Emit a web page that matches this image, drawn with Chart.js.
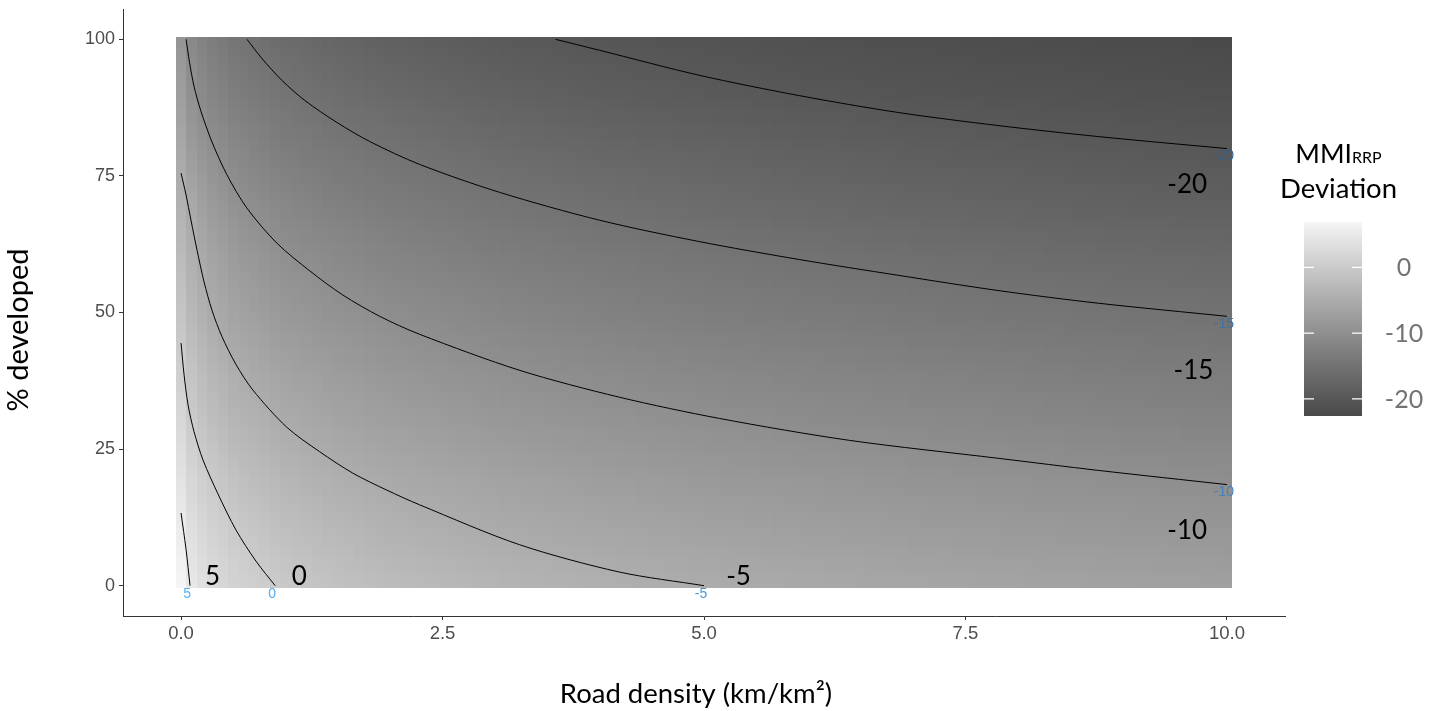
<!DOCTYPE html>
<html>
<head>
<meta charset="utf-8">
<script src="https://cdn.jsdelivr.net/npm/chart.js@4/dist/chart.umd.min.js"></script>
<style>
  html, body { margin: 0; padding: 0; background: #fff; }
  #wrap { width: 1440px; height: 711px; }
</style>
</head>
<body>
<div id="wrap"><canvas id="surface" width="1440" height="711"></canvas></div>
<script>
// grid nodes: road density (km/km2) and % developed
const roadDensity = [0, 0.1, 0.25, 0.5, 1, 1.5, 2, 3, 4, 5, 6, 7, 8, 9, 10];
const pctDeveloped = [0, 10, 20, 30, 40, 50, 60, 70, 80, 90, 100];

// MMI_RRP deviation at each road density node, one array per % developed row
const dev0   = [6.9, 4.8, 3.1, 1.5, -0.3, -1.4, -2.3, -3.5, -4.3, -5.0, -5.5, -6.0, -6.4, -6.7, -7.0];
const dev10  = [5.5, 3.4, 1.7, 0.1, -1.8, -3.0, -3.9, -5.1, -5.9, -6.6, -7.1, -7.6, -8.0, -8.3, -8.6];
const dev20  = [3.9, 1.9, 0.2, -1.5, -3.4, -4.6, -5.5, -6.6, -7.5, -8.2, -8.7, -9.2, -9.6, -9.9, -10.2];
const dev30  = [2.3, 0.1, -1.6, -3.3, -5.1, -6.3, -7.1, -8.3, -9.1, -9.8, -10.4, -10.8, -11.2, -11.6, -11.9];
const dev40  = [0.7, -1.2, -3.1, -4.8, -6.7, -7.8, -8.7, -9.9, -10.7, -11.4, -11.9, -12.4, -12.8, -13.2, -13.5];
const dev50  = [-0.9, -3.0, -4.8, -6.4, -8.3, -9.4, -10.2, -11.4, -12.3, -13.0, -13.5, -14.0, -14.4, -14.8, -15.1];
const dev60  = [-2.5, -4.3, -5.9, -7.7, -9.8, -10.9, -11.8, -13.0, -13.8, -14.5, -15.1, -15.6, -16.0, -16.4, -16.7];
const dev70  = [-4.1, -5.6, -7.6, -9.5, -11.4, -12.6, -13.4, -14.6, -15.5, -16.2, -16.8, -17.3, -17.7, -18.1, -18.4];
const dev80  = [-5.7, -7.8, -9.5, -11.2, -13.1, -14.2, -15.0, -16.3, -17.2, -17.8, -18.4, -18.9, -19.3, -19.7, -20.0];
const dev90  = [-7.3, -9.6, -11.3, -12.9, -14.7, -15.9, -16.7, -18.0, -18.8, -19.5, -20.1, -20.5, -20.8, -21.1, -21.4];
const dev100 = [-8.9, -11.0, -12.7, -14.4, -16.3, -17.4, -18.3, -19.5, -20.3, -20.8, -21.3, -21.7, -22.0, -22.3, -22.6];

// contour lines (road density, % developed)
const lvl5X   = [0.0, 0.048, 0.086];
const lvl5Y   = [13.3, 6.6, 0];
const lvl0X   = [0.0, 0.029, 0.067, 0.124, 0.21, 0.353, 0.525, 0.716, 0.90];
const lvl0Y   = [44.4, 38.6, 33.1, 28.2, 23.0, 16.8, 10.2, 4.5, 0];
const lvlM5X  = [0.0, 0.048, 0.095, 0.153, 0.22, 0.296, 0.391, 0.525, 0.687, 1.011, 1.327, 1.642, 1.966, 2.281, 3.236, 4.19, 5.0];
const lvlM5Y  = [75.5, 71.5, 66.9, 61.4, 55.6, 50.4, 45.6, 40.5, 35.8, 29.0, 24.5, 20.6, 17.5, 14.8, 7.5, 2.5, 0];
const lvlM10X = [0.048, 0.081, 0.124, 0.191, 0.296, 0.439, 0.63, 0.916, 1.232, 1.547, 1.90, 2.282, 3.24, 4.19, 5.15, 6.39, 7.82, 8.77, 10.0];
const lvlM10Y = [100, 95.8, 91.4, 86.8, 81.2, 75.2, 69.1, 62.7, 57.6, 53.2, 49.3, 46.0, 39.4, 34.5, 30.6, 26.6, 23.3, 21.1, 18.5];
const lvlM15X = [0.63, 0.773, 0.964, 1.184, 1.489, 1.804, 2.282, 3.045, 4.0, 4.95, 5.91, 6.86, 7.82, 8.77, 10.0];
const lvlM15Y = [100, 96.5, 92.5, 88.8, 84.8, 81.3, 77.1, 72.0, 66.9, 63.0, 59.7, 56.8, 54.0, 51.7, 49.3];
const lvlM20X = [3.58, 4.0, 4.96, 5.91, 6.86, 7.82, 8.77, 10.0];
const lvlM20Y = [100, 98.0, 93.4, 89.7, 86.6, 84.2, 82.2, 80.0];

const levelNames = ['5', '0', '-5', '-10', '-15', '-20'];
// big level labels placed in data space
const bigLabelX = [0.30, 1.13, 5.33, 9.62, 9.68, 9.62];
const bigLabelY = [1.9, 1.9, 1.9, 10.2, 39.5, 73.7];

const xTicks = [0, 2.5, 5, 7.5, 10];
const yTicks = [0, 25, 50, 75, 100];
const legendTicks = [0, -10, -20];

const grid = [dev0, dev10, dev20, dev30, dev40, dev50, dev60, dev70, dev80, dev90, dev100];
const contours = [
  [lvl5X, lvl5Y], [lvl0X, lvl0Y], [lvlM5X, lvlM5Y],
  [lvlM10X, lvlM10Y], [lvlM15X, lvlM15Y], [lvlM20X, lvlM20Y]
];
const smallLabelColors = ['#56B1F7', '#53AAEE', '#4B96D4', '#4582BA', '#3D70A0', '#365F89'];

const allValues = grid.flat();
const vMin = Math.min(...allValues);
const vMax = Math.max(...allValues);

// grey ramp interpolated in L*, like ggplot's gradient
function lstar(g) {
  const c = g / 255;
  const lin = c <= 0.04045 ? c / 12.92 : Math.pow((c + 0.055) / 1.055, 2.4);
  return lin > 0.008856 ? 116 * Math.cbrt(lin) - 16 : 903.3 * lin;
}
function fromLstar(L) {
  const Y = L > 8 ? Math.pow((L + 16) / 116, 3) : L / 903.3;
  const c = Y <= 0.0031308 ? 12.92 * Y : 1.055 * Math.pow(Y, 1 / 2.4) - 0.055;
  return Math.round(Math.max(0, Math.min(1, c)) * 255);
}
const lowL = lstar(0x4a), highL = lstar(0xf5);
function greyFor(v) {
  const t = (v - vMin) / (vMax - vMin);
  return fromLstar(lowL + t * (highL - lowL));
}

function lookup(nodes, v) {
  let k = 0;
  while (k < nodes.length - 2 && nodes[k + 1] < v) k++;
  return [k, (v - nodes[k]) / (nodes[k + 1] - nodes[k])];
}

const rasterPlugin = {
  id: 'raster',
  beforeDatasetsDraw(chart) {
    const xs = chart.scales.x, ys = chart.scales.y;
    const left = Math.round(xs.getPixelForValue(-0.05));
    const right = Math.round(xs.getPixelForValue(10.05));
    const top = Math.round(ys.getPixelForValue(100.5));
    const bottom = Math.round(ys.getPixelForValue(-0.5));
    const w = right - left, h = bottom - top;
    const off = document.createElement('canvas');
    off.width = w; off.height = h;
    const octx = off.getContext('2d');
    const img = octx.createImageData(w, h);
    const cols = [];
    for (let i = 0; i < w; i++) {
      let v = xs.getValueForPixel(left + i + 0.5);
      v = Math.min(10, Math.max(0, Math.round(v * 10) / 10));
      cols.push(lookup(roadDensity, v));
    }
    for (let j = 0; j < h; j++) {
      let v = ys.getValueForPixel(top + j + 0.5);
      v = Math.min(100, Math.max(0, Math.round(v)));
      const [r, tr] = lookup(pctDeveloped, v);
      const lo = grid[r], hi = grid[r + 1];
      for (let i = 0; i < w; i++) {
        const [k, tc] = cols[i];
        const a = lo[k] + (lo[k + 1] - lo[k]) * tc;
        const b = hi[k] + (hi[k + 1] - hi[k]) * tc;
        const g = greyFor(a + (b - a) * tr);
        const p = (j * w + i) * 4;
        img.data[p] = g; img.data[p + 1] = g; img.data[p + 2] = g; img.data[p + 3] = 255;
      }
    }
    octx.putImageData(img, 0, 0);
    chart.ctx.drawImage(off, left, top);
  }
};

const textPlugin = {
  id: 'texts',
  afterDatasetsDraw(chart) {
    const ctx = chart.ctx;
    const xs = chart.scales.x, ys = chart.scales.y;
    ctx.save();
    // small coloured labels at the contour ends
    ctx.font = '14px "Liberation Sans"';
    ctx.textAlign = 'center';
    ctx.textBaseline = 'middle';
    contours.forEach(([cx, cy], i) => {
      const n = cx.length - 1;
      ctx.fillStyle = smallLabelColors[i];
      ctx.fillText(levelNames[i], xs.getPixelForValue(cx[n]) - 3, ys.getPixelForValue(cy[n]) + 8);
    });
    // big black labels
    ctx.font = '26px Lato';
    ctx.fillStyle = '#000';
    ctx.textBaseline = 'alphabetic';
    levelNames.forEach((name, i) => {
      ctx.fillText(name, xs.getPixelForValue(bigLabelX[i]), ys.getPixelForValue(bigLabelY[i]) + 9.5);
    });
    // axis titles
    ctx.font = '27.5px Lato';
    ctx.fillText('Road density (km/km\u00B2)', 696, 703);
    ctx.save();
    ctx.translate(28, 330);
    ctx.rotate(-Math.PI / 2);
    ctx.font = '29px Lato';
    ctx.fillText('% developed', 0, 0);
    ctx.restore();

    // legend title
    const big = '26.5px Lato', sub = '16px Lato';
    ctx.font = big;
    const wM = ctx.measureText('MMI').width;
    ctx.font = sub;
    const wR = ctx.measureText('RRP').width;
    const x0 = 1338.5 - (wM + wR) / 2;
    ctx.textAlign = 'left';
    ctx.font = big;
    ctx.fillText('MMI', x0, 163);
    ctx.font = sub;
    ctx.fillText('RRP', x0 + wM, 163);
    ctx.textAlign = 'center';
    ctx.font = '27.5px Lato';
    ctx.fillText('Deviation', 1338.5, 198);

    // colour bar
    const barL = 1304, barR = 1362, barT = 222, barB = 416;
    for (let py = barT; py < barB; py++) {
      const v = vMax - (py + 0.5 - barT) / (barB - barT) * (vMax - vMin);
      const g = greyFor(v);
      ctx.fillStyle = `rgb(${g},${g},${g})`;
      ctx.fillRect(barL, py, barR - barL, 1);
    }
    ctx.strokeStyle = '#fff';
    ctx.lineWidth = 1.2;
    ctx.fillStyle = '#747474';
    ctx.font = '25px Lato';
    legendTicks.forEach(t => {
      const py = barT + (vMax - t) / (vMax - vMin) * (barB - barT);
      ctx.beginPath();
      ctx.moveTo(barL, py); ctx.lineTo(barL + 10, py);
      ctx.moveTo(barR - 10, py); ctx.lineTo(barR, py);
      ctx.stroke();
      ctx.fillText(String(t), 1404, py + 9);
    });
    ctx.restore();
  }
};

new Chart(document.getElementById('surface'), {
  type: 'scatter',
  data: {
    datasets: contours.map(([cx, cy], i) => ({
      label: levelNames[i],
      data: cx.map((x, j) => ({ x: x, y: cy[j] })),
      showLine: true,
      borderColor: '#000',
      borderWidth: 1,
      pointRadius: 0,
      tension: 0.3,
      fill: false
    }))
  },
  options: {
    responsive: false,
    animation: false,
    devicePixelRatio: 1,
    layout: { padding: { top: 9, right: 155, left: 0, bottom: 0 } },
    plugins: { legend: { display: false }, tooltip: { enabled: false } },
    scales: {
      x: {
        type: 'linear', min: -0.555, max: 10.555,
        afterBuildTicks: s => { s.ticks = xTicks.map(v => ({ value: v })); },
        afterFit: s => { s.height = 95; s.paddingLeft = 0; s.paddingRight = 0; },
        grid: { drawOnChartArea: false, tickLength: 4, tickColor: '#333' },
        border: { color: '#333', width: 1 },
        ticks: {
          color: '#4d4d4d', padding: 3, maxRotation: 0,
          font: { family: 'Liberation Sans', size: 18.5 },
          callback: v => Number(v).toFixed(1)
        }
      },
      y: {
        type: 'linear', min: -5.55, max: 105.55,
        afterBuildTicks: s => { s.ticks = yTicks.map(v => ({ value: v })); },
        afterFit: s => { s.width = 123; s.paddingTop = 0; s.paddingBottom = 0; },
        grid: { drawOnChartArea: false, tickLength: 4, tickColor: '#333' },
        border: { color: '#333', width: 1 },
        ticks: {
          color: '#4d4d4d', padding: 4,
          font: { family: 'Liberation Sans', size: 18 },
          callback: v => String(v)
        }
      }
    }
  },
  plugins: [rasterPlugin, textPlugin]
});
</script>
</body>
</html>
